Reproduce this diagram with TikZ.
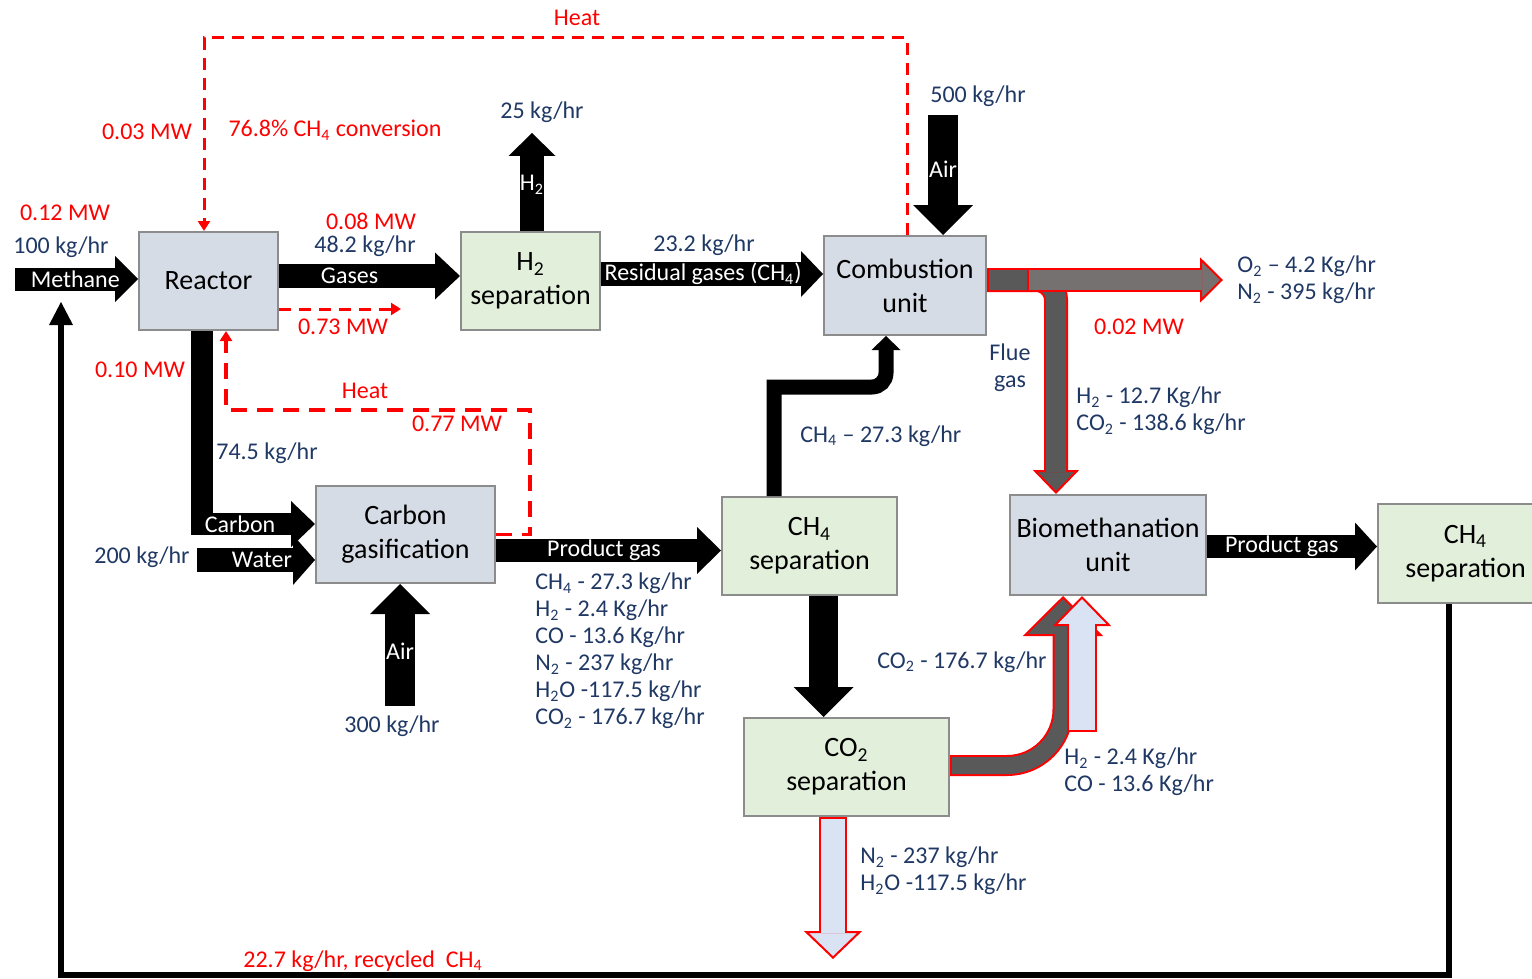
\documentclass[tikz,border=0pt]{standalone}
\usepackage{fontspec}
\setmainfont{Carlito}
\usepackage{tikz}
\usetikzlibrary{arrows.meta, positioning}
\definecolor{labelblue}{HTML}{1F3864}
\definecolor{heatred}{HTML}{FF0000}
\definecolor{unitfill}{HTML}{D6DCE5}
\definecolor{sepfill}{HTML}{E2EFDA}
\definecolor{boxedge}{HTML}{8C8C8C}
\definecolor{fluegray}{HTML}{595959}
\definecolor{ventgray}{HTML}{767171}
\definecolor{gasblue}{HTML}{DAE3F3}
\NewDocumentCommand{\chemsub}{m}{\textsubscript{#1}}

\begin{document}
\begin{tikzpicture}[x=0.5pt, y=-0.5pt,
    unit/.style={draw=boxedge, line width=1pt, fill=unitfill, align=center, inner sep=0pt, font=\fontsize{14}{17}\selectfont},
    sep/.style={unit, fill=sepfill},
    rate/.style={text=labelblue, inner sep=0pt, font=\fontsize{12}{13.5}\selectfont},
    heat/.style={rate, text=heatred},
    intext/.style={text=white, inner sep=0pt, font=\fontsize{12}{14}\selectfont},
    flow/.style n args={3}{draw=black, line width=#1, -{Triangle[width=#2, length=#3, line width=0pt]}},
    heatline/.style={draw=heatred, line width=1.5pt, dash pattern=on 6pt off 4pt, -{Triangle[width=6pt, length=5pt]}},
    pipe/.style n args={4}{draw=heatred, line width=#1, -{Triangle[width=#2, length=#3, fill=#4, line width=1pt]}},
    pipecore/.style n args={3}{draw=#3, line width=#1, shorten >=#2, shorten <=1pt}]
    \useasboundingbox (0,0) rectangle (1532,979);

    % units
    \node[unit, minimum width=69.5pt, minimum height=49pt] (reactor) at (208.5,281) {Reactor};
    \node[sep, minimum width=69.5pt, minimum height=49pt] (h2sep) at (530.5,281) {H\chemsub{2}\\separation};
    \node[unit, minimum width=81pt, minimum height=49.5pt] (comb) at (905,285.5) {Combustion\\unit};
    \node[unit, minimum width=89.5pt, minimum height=48.5pt] (gasif) at (405.5,534.5) {Carbon\\gasification};
    \node[sep, minimum width=87.5pt, minimum height=49pt] (ch4sep) at (809.5,546) {CH\chemsub{4}\\separation};
    \node[sep, minimum width=102.5pt, minimum height=49pt] (co2sep) at (846.5,767) {CO\chemsub{2}\\separation};
    \node[unit, minimum width=98pt, minimum height=50pt] (biometh) at (1108,545) {Biomethanation\\unit};
    \node[sep, minimum width=87.5pt, minimum height=49.5pt] (ch4sepr) at (1465.5,553.5) {CH\chemsub{4}\\separation};

    % free ends and offsets
    \coordinate (methin) at (15,279);
    \coordinate (gasout) at ([yshift=2.5pt]reactor.east);
    \coordinate (h2out) at (532,133);
    \coordinate (resout) at ([yshift=3.5pt]h2sep.east);
    \coordinate (airin) at (943,115);
    \coordinate (carbout) at ([xshift=-3.5pt]reactor.south);
    \coordinate (carbin) at ([yshift=5.25pt]gasif.west);
    \coordinate (waterin) at (197,560);
    \coordinate (airin2) at (400,706);
    \coordinate (pgout) at ([yshift=-8pt]gasif.east);
    \coordinate (ch4down) at ([xshift=7pt]ch4sep.south);
    \coordinate (bmout) at ([yshift=-0.75pt]biometh.east);
    \coordinate (ch4up) at ([xshift=-17.75pt]ch4sep.north);
    \coordinate (ch4bend) at (774,387);
    \coordinate (ch4in) at ([xshift=-9.5pt]comb.south);
    \coordinate (recstart) at ([xshift=-8.25pt]ch4sepr.south);
    \coordinate (reclow) at (61,975);
    \coordinate (recend) at (61,302);
    \coordinate (lossout) at ([yshift=-14pt]reactor.east);
    \coordinate (flueout) at ([yshift=2.75pt]comb.east);
    \coordinate (fluein) at ([xshift=-26pt]biometh.north);
    \coordinate (fluesplit) at (1027,280);
    \coordinate (exhaust) at (1223,280);
    \coordinate (co2out) at ([yshift=0.75pt]co2sep.east);
    \coordinate (co2in) at ([xshift=-22.5pt]biometh.south);
    \coordinate (h2coin) at (1082,732);
    \coordinate (ventout) at ([xshift=-6.75pt]co2sep.south);
    \coordinate (ventend) at (833,959);

    % black streams
    \draw[flow={11.5pt}{23pt}{11.5pt}] (methin) -- (methin -| reactor.west) node[intext, pos=0.49] {Methane};
    \draw[flow={12pt}{23.5pt}{12.5pt}] (gasout) -- (gasout -| h2sep.west) node[intext, pos=0.39] {Gases};
    \draw[flow={12pt}{23.5pt}{11.5pt}] (h2out |- h2sep.north) -- (h2out) node[intext, pos=0.47] {H\chemsub{2}};
    \draw[flow={12pt}{23pt}{11pt}] (resout) -- (resout -| comb.west) node[intext, pos=0.46] {Residual gases (CH\chemsub{4})};
    \draw[flow={15pt}{30pt}{15pt}] (airin) -- (airin |- comb.north) node[intext, pos=0.45] {Air};
    \draw[flow={11pt}{23pt}{12pt}] (carbout) |- (carbin) node[intext, pos=0.67] {Carbon};
    \draw[flow={12pt}{25pt}{11pt}] (waterin) -- (waterin -| gasif.west) node[intext, pos=0.55] {Water};
    \draw[flow={15pt}{30pt}{15pt}] (airin2) -- (airin2 |- gasif.south) node[intext, pos=0.45] {Air};
    \draw[flow={11.5pt}{23.5pt}{12pt}] (pgout) -- (pgout -| ch4sep.west) node[intext, pos=0.48] {Product gas};
    \draw[flow={14.5pt}{30pt}{15pt}] (ch4down) -- (ch4down |- co2sep.north);
    \draw[flow={11.5pt}{24pt}{11pt}] (bmout) -- (bmout -| ch4sepr.west) node[intext, pos=0.44] {Product gas};
    \draw[flow={7.5pt}{14.5pt}{7pt}] (ch4up) -- (ch4bend) [rounded corners=7pt] -| (ch4in);
    \draw[flow={3pt}{12pt}{11.5pt}] (recstart) |- (reclow) -- (recend);

    % heat
    \draw[heatline] ([xshift=1pt]comb.north) -- ++(0,-197) -| ([xshift=-2.25pt]reactor.north);
    \draw[heatline] (lossout) -- ++(122,0);
    \draw[heatline, line width=1.75pt, dash pattern=on 8pt off 5pt] (gasif.east) -- ++(34,0) -- ++(0,-124.5) -| ([xshift=8.75pt]reactor.south);

    % outlined streams
    \draw[pipe={12pt}{23pt}{12pt}{fluegray}, rounded corners=10pt] (flueout) -| (fluein);
    \draw[pipecore={10pt}{11pt}{fluegray}, rounded corners=10pt] (flueout) -| (fluein);
    \draw[pipe={12pt}{22.5pt}{11.5pt}{ventgray}] (fluesplit) -- (exhaust);
    \draw[pipecore={10pt}{10.5pt}{ventgray}] (fluesplit) -- (exhaust);
    \draw[pipe={10.5pt}{40pt}{20pt}{fluegray}, rounded corners=28pt] (co2out) -| (co2in);
    \draw[pipecore={8.5pt}{19pt}{fluegray}, rounded corners=28pt] (co2out) -| (co2in);
    \draw[pipe={15pt}{29pt}{15pt}{gasblue}] (h2coin) -- (h2coin |- biometh.south);
    \draw[pipecore={13pt}{14pt}{gasblue}] (h2coin) -- (h2coin |- biometh.south);
    \draw[pipe={14pt}{29pt}{14pt}{gasblue}] (ventout) -- (ventend);
    \draw[pipecore={12pt}{13pt}{gasblue}] (ventout) -- (ventend);

    % labels
    \node[heat] (mwin) at (65,213) {0.12 MW};
    \node[rate] (methrate) at (61,247) {100 kg/hr};
    \node[heat] (mwtop) at (147,132) {0.03 MW};
    \node[heat] (conv) at (335,130) {76.8\% CH\chemsub{4} conversion};
    \node[heat] (heattop) at (577,18) {Heat};
    \node[rate] (h2rate) at (542,112) {25 kg/hr};
    \node[heat] (mwgas) at (371,221) {0.08 MW};
    \node[rate] (gasrate) at (365,246) {48.2 kg/hr};
    \node[heat] (mwloss) at (343,327) {0.73 MW};
    \node[rate] (resrate) at (704,245) {23.2 kg/hr};
    \node[rate] (airrate) at (978,96) {500 kg/hr};
    \node[heat] (mwcarb) at (140,370) {0.10 MW};
    \node[heat] (heatlow) at (365,391) {Heat};
    \node[heat] (mwgasif) at (457,424) {0.77 MW};
    \node[rate] (carbrate) at (267,453) {74.5 kg/hr};
    \node[rate] (waterrate) at (142,557) {200 kg/hr};
    \node[rate] (airrate2) at (392,726) {300 kg/hr};
    \node[rate, anchor=west, align=left] (pglist) at (535,651) {CH\chemsub{4} - 27.3 kg/hr\\H\chemsub{2} - 2.4 Kg/hr\\CO - 13.6 Kg/hr\\N\chemsub{2} - 237 kg/hr\\H\chemsub{2}O -117.5 kg/hr\\CO\chemsub{2} - 176.7 kg/hr};
    \node[rate, anchor=west] (ch4rate) at (800,436) {CH\chemsub{4} -- 27.3 kg/hr};
    \node[rate, align=center] (fluelabel) at (1010,368) {Flue\\gas};
    \node[heat] (mwflue) at (1139,327) {0.02 MW};
    \node[rate, anchor=west, align=left] (ventlabel) at (1237,280) {O\chemsub{2} -- 4.2 Kg/hr\\N\chemsub{2} - 395 kg/hr};
    \node[rate, anchor=west, align=left] (fluecomp) at (1076,411) {H\chemsub{2} - 12.7 Kg/hr\\CO\chemsub{2} - 138.6 kg/hr};
    \node[rate, anchor=east] (co2rate) at (1047,662) {CO\chemsub{2} - 176.7 kg/hr};
    \node[rate, anchor=west, align=left] (h2corate) at (1064,772) {H\chemsub{2} - 2.4 Kg/hr\\CO - 13.6 Kg/hr};
    \node[rate, anchor=west, align=left] (ventrate) at (860,871) {N\chemsub{2} - 237 kg/hr\\H\chemsub{2}O -117.5 kg/hr};
    \node[heat] (recycle) at (363,961) {22.7 kg/hr, recycled\ \ CH\chemsub{4}};
\end{tikzpicture}
\end{document}
